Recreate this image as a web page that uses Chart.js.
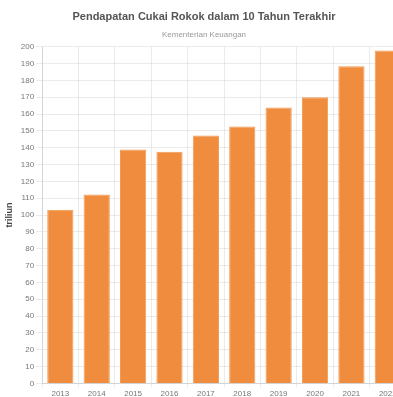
<!DOCTYPE html>
<html>
<head>
<meta charset="utf-8">
<title>Cukai Rokok</title>
<script src="https://cdn.jsdelivr.net/npm/chart.js@4/dist/chart.umd.min.js"></script>
<style>
    html, body { margin: 0; padding: 0; background: #fff; overflow: hidden; }
    .chart-box { position: relative; width: 415px; height: 401px; }
</style>
</head>
<body>
<div class="chart-box">
    <canvas id="cukaiChart"></canvas>
</div>
<script>
// Pendapatan cukai rokok per tahun (triliun rupiah)
const tahun = ['2013', '2014', '2015', '2016', '2017', '2018', '2019', '2020', '2021', '2022'];
const pendapatan = [103.2, 112.3, 139.0, 137.6, 147.3, 152.6, 164.0, 170.0, 188.5, 197.8];
const judul = 'Pendapatan Cukai Rokok dalam 10 Tahun Terakhir';
const sumber = 'Kementerian Keuangan';
const labelSumbuY = 'triliun';

Chart.defaults.font.family = '"Liberation Sans", Arial, sans-serif';
Chart.defaults.color = '#666';

const ctx = document.getElementById('cukaiChart').getContext('2d');
new Chart(ctx, {
    type: 'bar',
    data: {
        labels: tahun,
        datasets: [{
            label: 'Pendapatan',
            data: pendapatan,
            backgroundColor: '#ef8c3d',
            borderColor: '#f29a52',
            borderWidth: 1
        }]
    },
    options: {
        responsive: true,
        maintainAspectRatio: false,
        animation: false,
        layout: { padding: { right: 9, bottom: 0, left: 2 } },
        scales: {
            x: {
                grid: { color: 'rgba(0,0,0,0.08)', tickLength: 4 },
                ticks: { font: { size: 8 }, color: '#777', padding: 2 }
            },
            y: {
                min: 0,
                max: 200,
                grid: { color: 'rgba(0,0,0,0.08)', tickLength: 6 },
                ticks: { stepSize: 10, font: { size: 8 }, color: '#777', padding: 2 },
                title: {
                    display: true,
                    text: labelSumbuY,
                    font: { size: 9, weight: 'bold' },
                    color: '#444',
                    padding: { top: 2, bottom: 4 }
                }
            }
        },
        plugins: {
            legend: { display: false },
            tooltip: { enabled: false },
            title: {
                display: true,
                text: judul,
                font: { size: 11, weight: 'bold' },
                color: '#555',
                padding: { top: 10, bottom: 7 }
            },
            subtitle: {
                display: true,
                text: sumber,
                font: { size: 8 },
                color: '#999',
                padding: { bottom: 7 }
            }
        }
    }
});
</script>
</body>
</html>
